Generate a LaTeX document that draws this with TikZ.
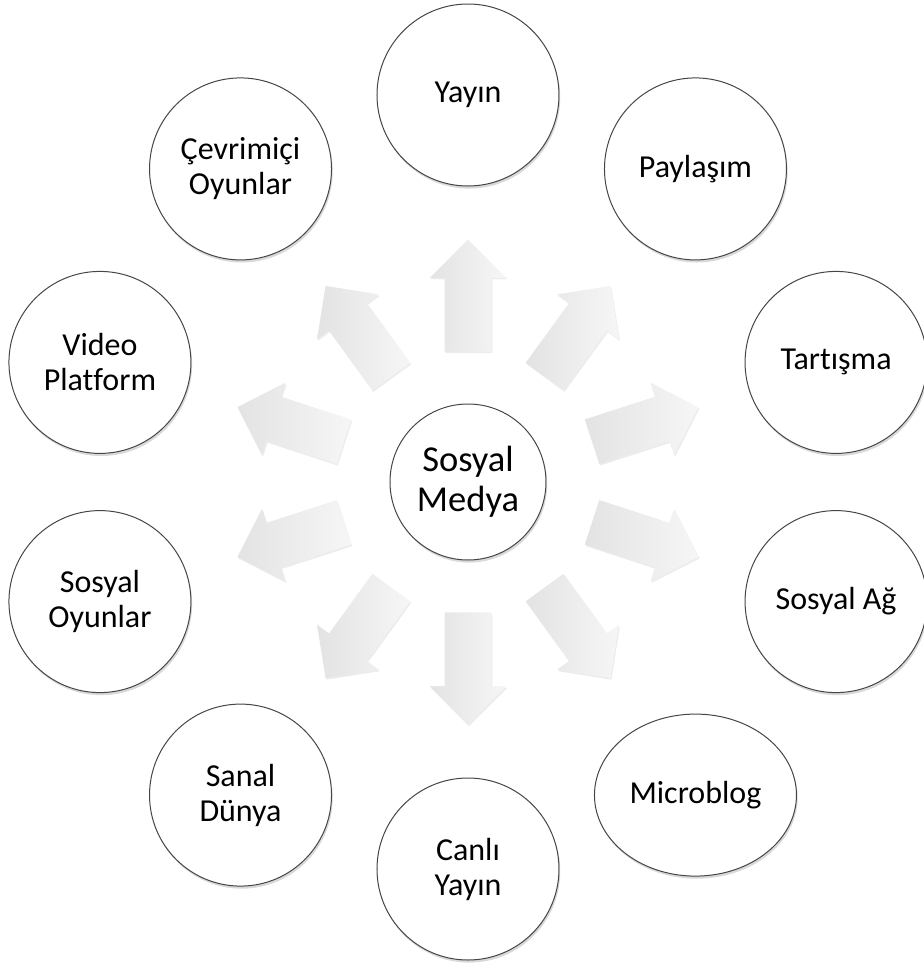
\documentclass[tikz,border=0pt]{standalone}
\usepackage{fontspec}
\setmainfont{Carlito}[Ligatures=NoCommon]
\usetikzlibrary{positioning}
\usetikzlibrary{shapes.geometric, shapes.arrows, shadows}

\begin{document}
\begin{tikzpicture}[x=0.5pt, y=0.5pt,
  mycircle/.style={circle, draw=gray!55!black, line width=0.5pt, fill=white,
    minimum size=91pt, inner sep=0pt, align=center,
    font=\fontsize{16}{17.5}\selectfont,
    drop shadow={shadow xshift=0.6pt, shadow yshift=-1.3pt, opacity=0.3}},
  myarrow/.style={single arrow, draw=none, left color=gray!22, right color=gray!7,
    minimum height=56pt, minimum width=0pt, single arrow head extend=7.4pt,
    inner xsep=0pt, inner ysep=11.5pt, anchor=tail,
    drop shadow={shadow xshift=0.5pt, shadow yshift=-0.8pt, opacity=0.15}}]

\useasboundingbox (-468,-483) rectangle (455,482);

%% the hub
\node [mycircle, minimum size=78pt, font=\fontsize{18.25}{20}\selectfont] (medya) at (0,0) {Sosyal\\Medya};

%% arrows going out of the hub
\node [myarrow, rotate=90] (a1) at (90:130) {};
\node [myarrow, rotate=54] (a2) at (54:130) {};
\node [myarrow, rotate=18] (a3) at (18:130) {};
\node [myarrow, rotate=-18] (a4) at (-18:130) {};
\node [myarrow, rotate=-54] (a5) at (-54:130) {};
\node [myarrow, rotate=-90] (a6) at (-90:130) {};
\node [myarrow, rotate=-126] (a7) at (-126:130) {};
\node [myarrow, rotate=-162] (a8) at (-162:130) {};
\node [myarrow, rotate=162] (a9) at (162:130) {};
\node [myarrow, rotate=126] (a10) at (126:130) {};

%% the outer ring
\node [mycircle] (yayin) at (90:387) {Yayın};
\node [mycircle] (paylasim) at (54:387) {Paylaşım};
\node [mycircle] (tartisma) at (18:387) {Tartışma};
\node [mycircle] (sosyalag) at (-18:387) {Sosyal Ağ};
\node [mycircle, ellipse, minimum width=101pt, minimum height=81pt] (microblog) at (-54:387) {Microblog};
\node [mycircle] (canli) at (-90:387) {Canlı\\Yayın};
\node [mycircle] (sanal) at (-126:387) {Sanal\\Dünya};
\node [mycircle] (sosyaloyun) at (-162:387) {Sosyal\\Oyunlar};
\node [mycircle] (video) at (162:387) {Video\\Platform};
\node [mycircle] (cevrimici) at (126:387) {Çevrimiçi\\Oyunlar};
\end{tikzpicture}
\end{document}
